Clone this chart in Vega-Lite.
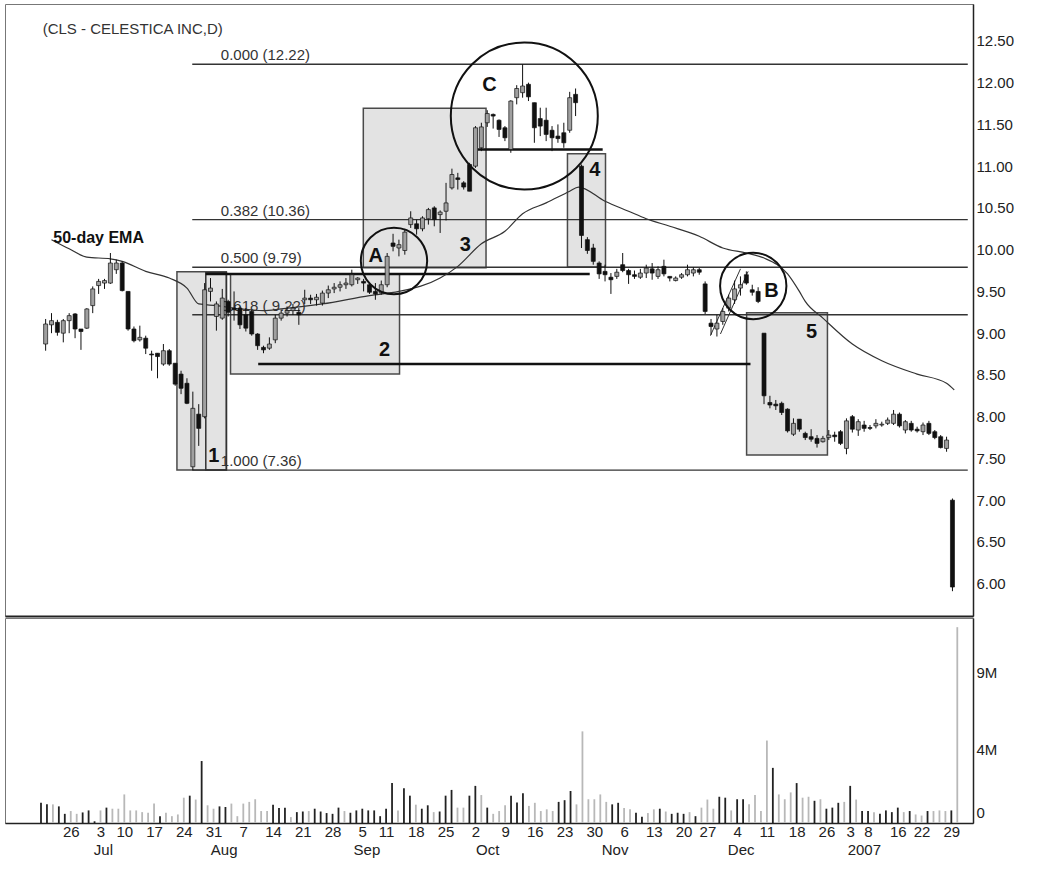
{
  "$schema": "https://vega.github.io/schema/vega-lite/v6.json",
  "padding": {"left": 4, "top": 3, "right": 5, "bottom": 5},
  "background": "white",
  "config": {
    "font": "Liberation Sans",
    "view": {"stroke": "#777", "strokeWidth": 1},
    "axis": {"labelFont": "Liberation Sans", "grid": false, "ticks": false, "labelColor": "#222", "labelFontSize": 15, "domainColor": "#222", "labelOverlap": false, "labelFlush": false}
  },
  "datasets": {
    "candles": [
      {"i":0,"o":8.87,"h":9.17,"l":8.79,"c":9.11,"v":1.30,"vc":"D"},
      {"i":1,"o":9.10,"h":9.24,"l":9.00,"c":9.15,"v":1.20,"vc":"D"},
      {"i":2,"o":9.13,"h":9.16,"l":8.97,"c":9.01,"v":1.20,"vc":"L"},
      {"i":3,"o":9.00,"h":9.17,"l":8.89,"c":9.15,"v":1.07,"vc":"D"},
      {"i":4,"o":9.15,"h":9.24,"l":9.00,"c":9.21,"v":0.59,"vc":"D"},
      {"i":5,"o":9.23,"h":9.24,"l":8.94,"c":9.05,"v":0.77,"vc":"L"},
      {"i":6,"o":9.05,"h":9.05,"l":8.80,"c":9.02,"v":0.59,"vc":"L"},
      {"i":7,"o":9.06,"h":9.30,"l":9.05,"c":9.29,"v":0.68,"vc":"D"},
      {"i":8,"o":9.33,"h":9.56,"l":9.24,"c":9.53,"v":0.81,"vc":"D"},
      {"i":9,"o":9.57,"h":9.65,"l":9.47,"c":9.62,"v":0.11,"vc":"D"},
      {"i":10,"o":9.60,"h":9.65,"l":9.53,"c":9.63,"v":0.81,"vc":"L"},
      {"i":11,"o":9.60,"h":9.96,"l":9.59,"c":9.84,"v":0.99,"vc":"D"},
      {"i":12,"o":9.76,"h":9.88,"l":9.71,"c":9.84,"v":0.92,"vc":"L"},
      {"i":13,"o":9.84,"h":9.86,"l":9.50,"c":9.51,"v":0.92,"vc":"L"},
      {"i":14,"o":9.50,"h":9.50,"l":9.03,"c":9.05,"v":1.84,"vc":"L"},
      {"i":15,"o":9.05,"h":9.08,"l":8.89,"c":8.91,"v":0.81,"vc":"L"},
      {"i":16,"o":8.92,"h":9.09,"l":8.90,"c":8.95,"v":0.81,"vc":"L"},
      {"i":17,"o":8.94,"h":8.97,"l":8.75,"c":8.82,"v":0.70,"vc":"L"},
      {"i":18,"o":8.75,"h":8.79,"l":8.55,"c":8.74,"v":0.66,"vc":"L"},
      {"i":19,"o":8.76,"h":8.76,"l":8.46,"c":8.72,"v":1.25,"vc":"L"},
      {"i":20,"o":8.63,"h":8.87,"l":8.61,"c":8.79,"v":0.44,"vc":"D"},
      {"i":21,"o":8.79,"h":8.81,"l":8.61,"c":8.63,"v":0.66,"vc":"L"},
      {"i":22,"o":8.64,"h":8.64,"l":8.37,"c":8.39,"v":0.44,"vc":"L"},
      {"i":23,"o":8.51,"h":8.55,"l":8.27,"c":8.34,"v":0.55,"vc":"L"},
      {"i":24,"o":8.40,"h":8.46,"l":8.15,"c":8.16,"v":1.63,"vc":"L"},
      {"i":25,"o":7.40,"h":8.30,"l":7.36,"c":8.10,"v":1.76,"vc":"D"},
      {"i":26,"o":8.03,"h":8.15,"l":7.65,"c":7.86,"v":1.51,"vc":"L"},
      {"i":27,"o":8.00,"h":9.60,"l":7.98,"c":9.52,"v":3.99,"vc":"D"},
      {"i":28,"o":9.50,"h":9.66,"l":9.38,"c":9.54,"v":1.14,"vc":"L"},
      {"i":29,"o":9.20,"h":9.38,"l":9.03,"c":9.35,"v":0.92,"vc":"L"},
      {"i":30,"o":9.18,"h":9.53,"l":9.16,"c":9.42,"v":1.07,"vc":"D"},
      {"i":31,"o":9.38,"h":9.40,"l":9.20,"c":9.25,"v":1.03,"vc":"D"},
      {"i":32,"o":9.30,"h":9.50,"l":9.15,"c":9.28,"v":1.25,"vc":"L"},
      {"i":33,"o":9.30,"h":9.32,"l":9.05,"c":9.10,"v":0.44,"vc":"L"},
      {"i":34,"o":9.22,"h":9.30,"l":9.02,"c":9.06,"v":1.25,"vc":"L"},
      {"i":35,"o":9.26,"h":9.28,"l":8.97,"c":8.99,"v":1.36,"vc":"L"},
      {"i":36,"o":8.99,"h":9.00,"l":8.80,"c":8.85,"v":1.53,"vc":"L"},
      {"i":37,"o":8.83,"h":8.85,"l":8.76,"c":8.80,"v":0.77,"vc":"L"},
      {"i":38,"o":8.82,"h":8.95,"l":8.80,"c":8.87,"v":0.77,"vc":"L"},
      {"i":39,"o":8.92,"h":9.22,"l":8.88,"c":9.18,"v":1.18,"vc":"D"},
      {"i":40,"o":9.18,"h":9.28,"l":9.15,"c":9.24,"v":0.97,"vc":"D"},
      {"i":41,"o":9.24,"h":9.32,"l":9.20,"c":9.27,"v":0.99,"vc":"D"},
      {"i":42,"o":9.27,"h":9.35,"l":9.22,"c":9.30,"v":0.38,"vc":"L"},
      {"i":43,"o":9.25,"h":9.30,"l":9.10,"c":9.22,"v":0.70,"vc":"D"},
      {"i":44,"o":9.40,"h":9.52,"l":9.35,"c":9.42,"v":0.74,"vc":"D"},
      {"i":45,"o":9.42,"h":9.46,"l":9.35,"c":9.40,"v":0.77,"vc":"L"},
      {"i":46,"o":9.40,"h":9.47,"l":9.33,"c":9.43,"v":0.92,"vc":"D"},
      {"i":47,"o":9.36,"h":9.51,"l":9.33,"c":9.48,"v":0.74,"vc":"D"},
      {"i":48,"o":9.48,"h":9.57,"l":9.42,"c":9.52,"v":0.64,"vc":"D"},
      {"i":49,"o":9.53,"h":9.60,"l":9.48,"c":9.55,"v":0.59,"vc":"D"},
      {"i":50,"o":9.55,"h":9.62,"l":9.50,"c":9.58,"v":0.99,"vc":"D"},
      {"i":51,"o":9.58,"h":9.66,"l":9.53,"c":9.60,"v":0.77,"vc":"L"},
      {"i":52,"o":9.58,"h":9.76,"l":9.56,"c":9.70,"v":0.66,"vc":"D"},
      {"i":53,"o":9.64,"h":9.67,"l":9.59,"c":9.66,"v":0.81,"vc":"D"},
      {"i":54,"o":9.62,"h":9.65,"l":9.50,"c":9.60,"v":0.92,"vc":"D"},
      {"i":55,"o":9.58,"h":9.60,"l":9.47,"c":9.49,"v":0.81,"vc":"D"},
      {"i":56,"o":9.50,"h":9.60,"l":9.40,"c":9.47,"v":0.81,"vc":"D"},
      {"i":57,"o":9.48,"h":9.63,"l":9.46,"c":9.58,"v":0.44,"vc":"D"},
      {"i":58,"o":9.58,"h":9.96,"l":9.55,"c":9.92,"v":0.92,"vc":"D"},
      {"i":59,"o":10.08,"h":10.19,"l":9.98,"c":10.04,"v":2.57,"vc":"D"},
      {"i":60,"o":10.02,"h":10.12,"l":9.92,"c":10.06,"v":0.81,"vc":"L"},
      {"i":61,"o":9.99,"h":10.25,"l":9.94,"c":10.21,"v":2.24,"vc":"D"},
      {"i":62,"o":10.30,"h":10.46,"l":10.26,"c":10.38,"v":1.76,"vc":"D"},
      {"i":63,"o":10.31,"h":10.36,"l":10.18,"c":10.25,"v":1.18,"vc":"L"},
      {"i":64,"o":10.25,"h":10.40,"l":10.22,"c":10.38,"v":0.92,"vc":"D"},
      {"i":65,"o":10.37,"h":10.50,"l":10.30,"c":10.48,"v":1.14,"vc":"D"},
      {"i":66,"o":10.50,"h":10.52,"l":10.28,"c":10.36,"v":0.70,"vc":"L"},
      {"i":67,"o":10.42,"h":10.47,"l":10.20,"c":10.45,"v":0.74,"vc":"D"},
      {"i":68,"o":10.46,"h":10.80,"l":10.35,"c":10.56,"v":1.76,"vc":"D"},
      {"i":69,"o":10.74,"h":10.97,"l":10.72,"c":10.90,"v":2.13,"vc":"D"},
      {"i":70,"o":10.86,"h":10.92,"l":10.72,"c":10.84,"v":0.99,"vc":"L"},
      {"i":71,"o":10.80,"h":10.82,"l":10.72,"c":10.75,"v":0.99,"vc":"L"},
      {"i":72,"o":11.02,"h":11.04,"l":10.70,"c":10.70,"v":1.76,"vc":"D"},
      {"i":73,"o":11.00,"h":11.48,"l":10.98,"c":11.46,"v":2.39,"vc":"D"},
      {"i":74,"o":11.22,"h":11.52,"l":11.18,"c":11.47,"v":1.80,"vc":"L"},
      {"i":75,"o":11.52,"h":11.67,"l":11.47,"c":11.63,"v":0.99,"vc":"D"},
      {"i":76,"o":11.62,"h":11.63,"l":11.45,"c":11.60,"v":0.59,"vc":"L"},
      {"i":77,"o":11.55,"h":11.56,"l":11.35,"c":11.44,"v":0.77,"vc":"L"},
      {"i":78,"o":11.46,"h":11.48,"l":11.30,"c":11.34,"v":1.14,"vc":"L"},
      {"i":79,"o":11.20,"h":11.79,"l":11.16,"c":11.78,"v":1.76,"vc":"D"},
      {"i":80,"o":11.82,"h":11.97,"l":11.74,"c":11.93,"v":1.32,"vc":"D"},
      {"i":81,"o":11.88,"h":12.22,"l":11.82,"c":11.96,"v":1.91,"vc":"D"},
      {"i":82,"o":11.98,"h":12.00,"l":11.78,"c":11.83,"v":1.10,"vc":"L"},
      {"i":83,"o":11.76,"h":11.76,"l":11.28,"c":11.46,"v":1.30,"vc":"L"},
      {"i":84,"o":11.57,"h":11.70,"l":11.36,"c":11.48,"v":0.77,"vc":"L"},
      {"i":85,"o":11.55,"h":11.70,"l":11.30,"c":11.38,"v":0.88,"vc":"L"},
      {"i":86,"o":11.43,"h":11.48,"l":11.18,"c":11.34,"v":0.77,"vc":"L"},
      {"i":87,"o":11.36,"h":11.50,"l":11.28,"c":11.33,"v":1.36,"vc":"D"},
      {"i":88,"o":11.40,"h":11.52,"l":11.22,"c":11.28,"v":1.47,"vc":"D"},
      {"i":89,"o":11.43,"h":11.89,"l":11.40,"c":11.82,"v":2.06,"vc":"D"},
      {"i":90,"o":11.86,"h":11.93,"l":11.60,"c":11.76,"v":1.20,"vc":"L"},
      {"i":91,"o":11.00,"h":11.02,"l":10.02,"c":10.17,"v":5.90,"vc":"L"},
      {"i":92,"o":10.12,"h":10.15,"l":9.95,"c":9.99,"v":1.53,"vc":"L"},
      {"i":93,"o":10.02,"h":10.07,"l":9.82,"c":9.86,"v":1.53,"vc":"L"},
      {"i":94,"o":9.84,"h":9.86,"l":9.65,"c":9.71,"v":1.84,"vc":"L"},
      {"i":95,"o":9.74,"h":9.82,"l":9.62,"c":9.70,"v":1.36,"vc":"L"},
      {"i":96,"o":9.67,"h":9.72,"l":9.47,"c":9.64,"v":1.20,"vc":"D"},
      {"i":97,"o":9.68,"h":9.77,"l":9.65,"c":9.73,"v":1.30,"vc":"D"},
      {"i":98,"o":9.82,"h":9.96,"l":9.73,"c":9.75,"v":0.97,"vc":"L"},
      {"i":99,"o":9.75,"h":9.77,"l":9.59,"c":9.70,"v":0.88,"vc":"L"},
      {"i":100,"o":9.70,"h":9.75,"l":9.65,"c":9.68,"v":0.66,"vc":"D"},
      {"i":101,"o":9.67,"h":9.77,"l":9.65,"c":9.72,"v":0.41,"vc":"D"},
      {"i":102,"o":9.72,"h":9.82,"l":9.66,"c":9.78,"v":0.64,"vc":"L"},
      {"i":103,"o":9.77,"h":9.84,"l":9.64,"c":9.72,"v":0.88,"vc":"L"},
      {"i":104,"o":9.68,"h":9.80,"l":9.65,"c":9.76,"v":0.92,"vc":"D"},
      {"i":105,"o":9.80,"h":9.88,"l":9.68,"c":9.71,"v":0.74,"vc":"L"},
      {"i":106,"o":9.68,"h":9.68,"l":9.62,"c":9.66,"v":0.59,"vc":"D"},
      {"i":107,"o":9.63,"h":9.68,"l":9.62,"c":9.66,"v":0.66,"vc":"D"},
      {"i":108,"o":9.67,"h":9.72,"l":9.65,"c":9.70,"v":0.59,"vc":"D"},
      {"i":109,"o":9.70,"h":9.82,"l":9.68,"c":9.76,"v":0.70,"vc":"L"},
      {"i":110,"o":9.72,"h":9.79,"l":9.68,"c":9.76,"v":0.44,"vc":"D"},
      {"i":111,"o":9.76,"h":9.78,"l":9.70,"c":9.73,"v":0.99,"vc":"L"},
      {"i":112,"o":9.59,"h":9.62,"l":9.23,"c":9.26,"v":1.51,"vc":"L"},
      {"i":113,"o":9.12,"h":9.17,"l":8.98,"c":9.08,"v":0.92,"vc":"L"},
      {"i":114,"o":9.05,"h":9.22,"l":8.96,"c":9.12,"v":1.69,"vc":"D"},
      {"i":115,"o":9.14,"h":9.30,"l":9.10,"c":9.26,"v":1.63,"vc":"D"},
      {"i":116,"o":9.30,"h":9.46,"l":9.26,"c":9.42,"v":0.81,"vc":"L"},
      {"i":117,"o":9.40,"h":9.63,"l":9.35,"c":9.53,"v":1.53,"vc":"D"},
      {"i":118,"o":9.54,"h":9.68,"l":9.45,"c":9.58,"v":1.53,"vc":"D"},
      {"i":119,"o":9.70,"h":9.74,"l":9.58,"c":9.60,"v":1.20,"vc":"L"},
      {"i":120,"o":9.52,"h":9.58,"l":9.45,"c":9.49,"v":1.80,"vc":"L"},
      {"i":121,"o":9.50,"h":9.55,"l":9.36,"c":9.38,"v":0.77,"vc":"L"},
      {"i":122,"o":9.00,"h":9.00,"l":8.15,"c":8.25,"v":5.31,"vc":"L"},
      {"i":123,"o":8.17,"h":8.25,"l":8.10,"c":8.14,"v":3.55,"vc":"D"},
      {"i":124,"o":8.15,"h":8.20,"l":8.08,"c":8.13,"v":1.84,"vc":"L"},
      {"i":125,"o":8.16,"h":8.18,"l":8.02,"c":8.05,"v":1.53,"vc":"L"},
      {"i":126,"o":8.09,"h":8.10,"l":7.81,"c":7.83,"v":1.97,"vc":"L"},
      {"i":127,"o":7.79,"h":7.98,"l":7.77,"c":7.92,"v":2.57,"vc":"D"},
      {"i":128,"o":7.97,"h":7.97,"l":7.82,"c":7.85,"v":1.63,"vc":"L"},
      {"i":129,"o":7.80,"h":7.82,"l":7.72,"c":7.75,"v":1.69,"vc":"L"},
      {"i":130,"o":7.76,"h":7.85,"l":7.70,"c":7.73,"v":1.43,"vc":"D"},
      {"i":131,"o":7.74,"h":7.78,"l":7.63,"c":7.68,"v":1.53,"vc":"L"},
      {"i":132,"o":7.70,"h":7.77,"l":7.69,"c":7.74,"v":0.92,"vc":"D"},
      {"i":133,"o":7.75,"h":7.84,"l":7.72,"c":7.78,"v":0.99,"vc":"D"},
      {"i":134,"o":7.78,"h":7.82,"l":7.70,"c":7.76,"v":1.30,"vc":"D"},
      {"i":135,"o":7.82,"h":7.84,"l":7.66,"c":7.68,"v":1.36,"vc":"L"},
      {"i":136,"o":7.62,"h":7.98,"l":7.55,"c":7.95,"v":2.39,"vc":"D"},
      {"i":137,"o":8.00,"h":8.02,"l":7.81,"c":7.85,"v":1.51,"vc":"L"},
      {"i":138,"o":7.84,"h":7.97,"l":7.77,"c":7.94,"v":0.77,"vc":"D"},
      {"i":139,"o":7.90,"h":7.95,"l":7.82,"c":7.86,"v":0.77,"vc":"D"},
      {"i":140,"o":7.87,"h":7.90,"l":7.84,"c":7.86,"v":0.70,"vc":"L"},
      {"i":141,"o":7.89,"h":7.97,"l":7.86,"c":7.92,"v":0.59,"vc":"D"},
      {"i":142,"o":7.90,"h":7.94,"l":7.88,"c":7.91,"v":0.81,"vc":"D"},
      {"i":143,"o":7.92,"h":7.99,"l":7.90,"c":7.96,"v":0.70,"vc":"D"},
      {"i":144,"o":7.92,"h":8.08,"l":7.90,"c":8.03,"v":0.99,"vc":"D"},
      {"i":145,"o":8.03,"h":8.05,"l":7.87,"c":7.89,"v":0.70,"vc":"L"},
      {"i":146,"o":7.84,"h":7.96,"l":7.80,"c":7.94,"v":0.77,"vc":"D"},
      {"i":147,"o":7.92,"h":7.95,"l":7.82,"c":7.84,"v":0.55,"vc":"L"},
      {"i":148,"o":7.85,"h":7.88,"l":7.81,"c":7.83,"v":0.48,"vc":"L"},
      {"i":149,"o":7.82,"h":7.93,"l":7.78,"c":7.90,"v":0.77,"vc":"D"},
      {"i":150,"o":7.92,"h":7.95,"l":7.78,"c":7.80,"v":0.77,"vc":"L"},
      {"i":151,"o":7.82,"h":7.84,"l":7.73,"c":7.75,"v":0.81,"vc":"L"},
      {"i":152,"o":7.76,"h":7.78,"l":7.62,"c":7.63,"v":0.77,"vc":"L"},
      {"i":153,"o":7.62,"h":7.76,"l":7.58,"c":7.72,"v":0.81,"vc":"D"},
      {"i":154,"o":7.00,"h":7.02,"l":5.91,"c":5.96,"v":12.61,"vc":"L"}
    ],
    "ema": [
      {"i":1,"p":10.12},{"i":4,"p":10.01},{"i":7,"p":9.91},{"i":11,"p":9.89},{"i":13,"p":9.86},
      {"i":17,"p":9.74},{"i":21,"p":9.66},{"i":24,"p":9.54},{"i":26,"p":9.35},{"i":29,"p":9.33},
      {"i":33,"p":9.29},{"i":37,"p":9.27},{"i":40,"p":9.29},{"i":47,"p":9.35},{"i":55,"p":9.45},
      {"i":60,"p":9.50},{"i":67,"p":9.66},{"i":70,"p":9.80},{"i":74,"p":10.07},{"i":78,"p":10.22},
      {"i":81,"p":10.43},{"i":85,"p":10.56},{"i":89,"p":10.70},{"i":90.5,"p":10.75},{"i":95,"p":10.58},
      {"i":99,"p":10.46},{"i":102,"p":10.37},{"i":106,"p":10.28},{"i":111,"p":10.16},{"i":115,"p":10.02},
      {"i":119,"p":9.96},{"i":122,"p":9.90},{"i":126,"p":9.71},{"i":128,"p":9.50},{"i":129,"p":9.38},
      {"i":132,"p":9.18},{"i":137,"p":8.87},{"i":142,"p":8.67},{"i":148,"p":8.51},{"i":153,"p":8.40},
      {"i":154.3,"p":8.32}
    ],
    "fib": [
      {"p":12.22,"x1":24.9,"x2":156.6,"t":"0.000 (12.22)"},
      {"p":10.36,"x1":24.9,"x2":156.6,"t":"0.382 (10.36)"},
      {"p":9.79,"x1":24.9,"x2":156.6,"t":"0.500 (9.79)"},
      {"p":9.22,"x1":24.9,"x2":156.6,"t":"0.618 ( 9.22)"},
      {"p":7.36,"x1":24.9,"x2":156.6,"t":"1.000 (7.36)"}
    ],
    "boxes": [
      {"x1":22.3,"x2":30.7,"p1":7.361,"p2":9.736},
      {"x1":31.4,"x2":60.1,"p1":8.511,"p2":9.71},
      {"x1":53.95,"x2":74.79,"p1":9.784,"p2":11.693},
      {"x1":88.62,"x2":95.08,"p1":9.793,"p2":11.149},
      {"x1":119.04,"x2":132.77,"p1":7.541,"p2":9.245}
    ],
    "frames": [
      {"x1":27.2,"x2":30.7,"p1":7.361,"p2":9.724}
    ],
    "levels": [
      {"p":9.71,"x1":27.2,"x2":92.4},
      {"p":11.20,"x1":73.4,"x2":94.6},
      {"p":8.63,"x1":36.1,"x2":119.7}
    ],
    "trend": [
      {"x1":112.9,"p1":8.97,"x2":118.0,"p2":9.77},
      {"x1":114.6,"p1":8.99,"x2":119.3,"p2":9.74}
    ],
    "circles": [
      {"k":"A","i":59.16,"p":9.864},
      {"k":"B","i":120.17,"p":9.565},
      {"k":"C","i":81.29,"p":11.601}
    ],
    "tags": [
      {"t":"1","i":28.57,"p":7.53},
      {"t":"2","i":57.56,"p":8.80},
      {"t":"3","i":71.26,"p":10.05},
      {"t":"4","i":93.28,"p":10.95},
      {"t":"5","i":130.08,"p":9.01},
      {"t":"A","i":56.05,"p":9.92},
      {"t":"B","i":123.28,"p":9.50},
      {"t":"C","i":75.38,"p":11.97}
    ],
    "notes": [
      {"t":"(CLS - CELESTICA INC,D)","i":-0.5,"p":12.64},
      {"t":"50-day EMA","i":1.3,"p":10.14}
    ]
  },
  "spacing": 0,
  "vconcat": [
    {
      "width": 968,
      "height": 612,
      "layer": [
        {
          "data": {"name": "boxes"},
          "mark": {"type": "rect", "fill": "#e3e3e3", "stroke": "#4a4a4a", "strokeWidth": 1.5},
          "encoding": {
            "x": {"field": "x1", "type": "quantitative", "scale": {"domain": [-6.05, 156.64], "nice": false, "zero": false}, "axis": {"labels": false, "ticks": false, "title": null, "domainWidth": 2}},
            "x2": {"field": "x2"},
            "y": {"field": "p1", "type": "quantitative", "scale": {"domain": [5.613, 12.942], "nice": false, "zero": false}, "axis": {"orient": "right", "values": [6, 6.5, 7, 7.5, 8, 8.5, 9, 9.5, 10, 10.5, 11, 11.5, 12, 12.5], "format": ".2f", "title": null, "labelPadding": 3, "domainWidth": 1.5}},
            "y2": {"field": "p2"}
          }
        },
        {
          "data": {"name": "frames"},
          "mark": {"type": "rect", "fillOpacity": 0, "stroke": "#333", "strokeWidth": 1.5},
          "encoding": {
            "x": {"field": "x1", "type": "quantitative"},
            "x2": {"field": "x2"},
            "y": {"field": "p1", "type": "quantitative"},
            "y2": {"field": "p2"}
          }
        },
        {
          "data": {"name": "fib"},
          "mark": {"type": "rule", "stroke": "#333", "strokeWidth": 1.4},
          "encoding": {
            "x": {"field": "x1", "type": "quantitative"},
            "x2": {"field": "x2"},
            "y": {"field": "p", "type": "quantitative"}
          }
        },
        {
          "data": {"name": "fib"},
          "mark": {"type": "text", "align": "left", "baseline": "middle", "dy": -9, "fontSize": 15, "fill": "#333"},
          "encoding": {
            "x": {"datum": 29.75, "type": "quantitative"},
            "y": {"field": "p", "type": "quantitative"},
            "text": {"field": "t"}
          }
        },
        {
          "data": {"name": "levels"},
          "mark": {"type": "rule", "stroke": "#111", "strokeWidth": 2.5},
          "encoding": {
            "x": {"field": "x1", "type": "quantitative"},
            "x2": {"field": "x2"},
            "y": {"field": "p", "type": "quantitative"}
          }
        },
        {
          "data": {"name": "trend"},
          "mark": {"type": "rule", "stroke": "#333", "strokeWidth": 1},
          "encoding": {
            "x": {"field": "x1", "type": "quantitative"},
            "x2": {"field": "x2"},
            "y": {"field": "p1", "type": "quantitative"},
            "y2": {"field": "p2"}
          }
        },
        {
          "data": {"name": "ema"},
          "mark": {"type": "line", "stroke": "#333", "strokeWidth": 1.2, "interpolate": "monotone"},
          "encoding": {
            "x": {"field": "i", "type": "quantitative"},
            "y": {"field": "p", "type": "quantitative"}
          }
        },
        {
          "data": {"name": "candles"},
          "mark": {"type": "rule", "stroke": "#111", "strokeWidth": 1},
          "encoding": {
            "x": {"field": "i", "type": "quantitative"},
            "y": {"field": "l", "type": "quantitative"},
            "y2": {"field": "h"}
          }
        },
        {
          "data": {"name": "candles"},
          "mark": {"type": "bar", "width": 4, "stroke": "#111", "strokeWidth": 0.7},
          "encoding": {
            "x": {"field": "i", "type": "quantitative"},
            "y": {"field": "o", "type": "quantitative"},
            "y2": {"field": "c"},
            "fill": {"condition": {"test": "datum.c >= datum.o", "value": "#a0a0a0"}, "value": "#111"}
          }
        },
        {
          "data": {"name": "circles"},
          "transform": [{"filter": "datum.k != 'C'"}],
          "mark": {"type": "point", "shape": "circle", "filled": false, "stroke": "#111", "strokeWidth": 2, "size": 4400, "opacity": 1},
          "encoding": {
            "x": {"field": "i", "type": "quantitative"},
            "y": {"field": "p", "type": "quantitative"}
          }
        },
        {
          "data": {"name": "circles"},
          "transform": [{"filter": "datum.k == 'C'"}],
          "mark": {"type": "point", "shape": "circle", "filled": false, "stroke": "#111", "strokeWidth": 2, "size": 21609, "opacity": 1},
          "encoding": {
            "x": {"field": "i", "type": "quantitative"},
            "y": {"field": "p", "type": "quantitative"}
          }
        },
        {
          "data": {"name": "tags"},
          "mark": {"type": "text", "align": "center", "baseline": "middle", "fontSize": 20, "fontWeight": "bold", "fill": "#111"},
          "encoding": {
            "x": {"field": "i", "type": "quantitative"},
            "y": {"field": "p", "type": "quantitative"},
            "text": {"field": "t"}
          }
        },
        {
          "data": {"name": "notes"},
          "transform": [{"filter": "datum.t != '50-day EMA'"}],
          "mark": {"type": "text", "align": "left", "baseline": "middle", "fontSize": 15, "fill": "#333"},
          "encoding": {
            "x": {"field": "i", "type": "quantitative"},
            "y": {"field": "p", "type": "quantitative"},
            "text": {"field": "t"}
          }
        },
        {
          "data": {"name": "notes"},
          "transform": [{"filter": "datum.t == '50-day EMA'"}],
          "mark": {"type": "text", "align": "left", "baseline": "middle", "fontSize": 16, "fontWeight": "bold", "fill": "#111"},
          "encoding": {
            "x": {"field": "i", "type": "quantitative"},
            "y": {"field": "p", "type": "quantitative"},
            "text": {"field": "t"}
          }
        }
      ]
    },
    {
      "width": 968,
      "height": 205,
      "data": {"name": "candles"},
      "layer": [
        {
          "mark": {"type": "rule", "strokeWidth": 1.8},
          "encoding": {
            "x": {"field": "i", "type": "quantitative", "scale": {"domain": [-6.05, 156.64], "nice": false, "zero": false},
              "axis": {"orient": "bottom", "title": null, "values": [5,10,14,19,24,29,34,39,44,49,54,58,63,68,73,78,83,88,93,98,103,108,112,117,122,127,132,136,139,144,148,153],
                "labelExpr": "{'5':'26','10':'3','14':'10','19':'17','24':'24','29':'31','34':'7','39':'14','44':'21','49':'28','54':'5','58':'11','63':'18','68':'25','73':'2','78':'9','83':'16','88':'23','93':'30','98':'6','103':'13','108':'20','112':'27','117':'4','122':'11','127':'18','132':'26','136':'3','139':'8','144':'16','148':'22','153':'29'}[datum.value]",
                "labelPadding": 1, "domainWidth": 1.5}},
            "y": {"field": "v", "type": "quantitative", "scale": {"domain": [0, 13.2], "nice": false, "zero": true},
              "axis": {"orient": "right", "title": null, "values": [0, 4, 9], "labelExpr": "datum.value == 0 ? '0' : datum.value + 'M'", "labelBaseline": "bottom", "labelOffset": -3, "labelPadding": 3, "domainWidth": 1.5}},
            "y2": {"datum": 0},
            "color": {"field": "vc", "type": "nominal", "scale": {"domain": ["D", "L"], "range": ["#222222", "#b8b8b8"]}, "legend": null}
          }
        },
        {
          "mark": {"type": "rule", "opacity": 0},
          "encoding": {
            "x": {"field": "i", "type": "quantitative", "scale": {"domain": [-6.05, 156.64], "nice": false, "zero": false},
              "axis": {"orient": "bottom", "title": null, "domain": false, "values": [10.4, 30.7, 54.7, 75, 96.4, 117.6, 138.3],
                "labelExpr": "datum.value < 20 ? 'Jul' : datum.value < 40 ? 'Aug' : datum.value < 65 ? 'Sep' : datum.value < 85 ? 'Oct' : datum.value < 105 ? 'Nov' : datum.value < 128 ? 'Dec' : '2007'",
                "labelPadding": 19}},
            "y": {"datum": 0, "type": "quantitative"}
          }
        }
      ],
      "resolve": {"axis": {"x": "independent"}}
    }
  ]
}
